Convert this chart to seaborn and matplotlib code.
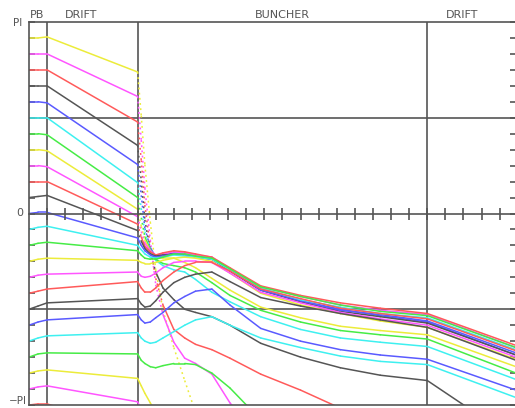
import numpy as np
import pandas as pd
import matplotlib
matplotlib.use("Agg")
import matplotlib.pyplot as plt
import seaborn as sns
from matplotlib.transforms import blended_transform_factory

nan = np.nan

# distance along the line (tick units); sections: PB 0-1, DRIFT 1-6, BUNCHER 6-22, DRIFT 22-
position = [0, 0.5, 1, 6, 6.2, 6.4, 6.7, 7.0, 7.4, 8.0, 8.6, 9.2, 10.1, 11.1, 12.8, 15.0, 17.2, 19.4, 22.0, 26.9]

# phase (degrees) of each particle, named by its initial phase
phase_p165 = [165, 165, 166, 133, 92, 46, -8, -53, -91, -126, -157, -187]
phase_p150 = [150, 150, 150, 110, 69, 24, -25, -67, -95, -121, -136, -141, -151, -178, -213]
phase_p135 = [135, 135, 135, 86, 50, 8, -32, -61, -86, -109, -117, -123, -128, -136, -151, -166, -183, -199]
phase_p120 = [120, 120, 120, 64, 31, -6, -36, -55, -70, -81, -90, -93, -97, -105, -122, -135, -145, -152, -157, -213]
phase_p105 = [105, 105, 104, 46, 17, -14, -32, -41, -40, -37, -37, -39, -42, -54, -72, -82, -90, -96, -102, -133]
phase_p90 = [90, 90, 90, 29, 5, -17, -34, -44, -49, -53, -55, -62, -74, -83, -97, -109, -117, -121, -125, -156]
phase_p75 = [75, 75, 74, 15, -4, -22, -34, -43, -47, -49, -51, -55, -65, -77, -91, -102, -110, -114, -118, -150]
phase_p60 = [60, 60, 59, 4, -12, -25, -35, -41, -42, -42, -46, -51, -61, -72, -88, -98, -106, -110, -114, -144]
phase_p45 = [45, 45, 44, -3, -17, -28, -35, -39, -38, -36, -37, -39, -41, -52, -69, -78, -86, -91, -95, -126]
phase_p30 = [30, 30, 30, -10, -22, -31, -36, -39, -37, -35, -36, -38, -41, -51, -68, -77, -84, -89, -94, -124]
phase_p15 = [15, 16, 17, -16, -26, -33, -38, -40, -39, -38, -39, -41, -43, -54, -72, -83, -92, -97, -103, -133]
phase_p0 = [0, 1, 1, -23, -30, -35, -39, -41, -40, -38, -39, -41, -43, -53, -72, -82, -91, -95, -101, -131]
phase_m15 = [-15, -13, -12, -30, -34, -38, -41, -42, -41, -39, -40, -41, -43, -53, -70, -81, -88, -94, -98, -128]
phase_m30 = [-30, -28, -27, -35, -39, -42, -43, -43, -41, -38, -38, -40, -42, -52, -69, -78, -86, -92, -96, -126]
phase_m45 = [-45, -43, -42, -44, -46, -47, -47, -46, -44, -42, -41, -42, -45, -56, -75, -86, -94, -101, -107, -137]
phase_m60 = [-60, -58, -57, -55, -59, -60, -59, -56, -51, -46, -45, -45, -46, -56, -74, -84, -93, -99, -105, -135]
phase_m75 = [-75, -73, -71, -64, -70, -74, -74, -70, -63, -55, -49, -46, -46, -54, -71, -80, -89, -94, -99, -129]
phase_m90 = [-90, -87, -84, -80, -85, -88, -87, -82, -74, -65, -60, -57, -55, -64, -79, -87, -94, -100, -107, -138]
phase_m105 = [-105, -102, -100, -95, -100, -103, -102, -98, -93, -84, -78, -73, -71, -86, -108, -120, -128, -133, -137, -166]
phase_m120 = [-120, -117, -115, -112, -117, -120, -122, -121, -117, -111, -105, -100, -97, -105, -117, -126, -134, -139, -142, -173]
phase_m135 = [-135, -132, -131, -132, -138, -141, -144, -145, -143, -141, -141, -142, -150, -164, -194]
phase_m150 = [-150, -148, -147, -155, -162, -169, -178, -187, -199]
phase_m165 = [-165, -163, -162, -177, -185, -194, -204]
phase_m180 = [-180, -179, -179, -205]

particles = ["165", "150", "135", "120", "105", "90", "75", "60", "45", "30", "15", "0",
             "-15", "-30", "-45", "-60", "-75", "-90", "-105", "-120", "-135", "-150", "-165", "-180"]
phases = [phase_p165, phase_p150, phase_p135, phase_p120, phase_p105, phase_p90, phase_p75,
          phase_p60, phase_p45, phase_p30, phase_p15, phase_p0, phase_m15, phase_m30, phase_m45,
          phase_m60, phase_m75, phase_m90, phase_m105, phase_m120, phase_m135, phase_m150,
          phase_m165, phase_m180]
color_cycle = ["#ecec3a", "#ff55ff", "#ff5a5a", "#555555", "#5a5aff", "#3ef0f0", "#46ec46"]
section_names = ["PB", "DRIFT", "BUNCHER", "DRIFT"]
section_label_x = [0.45, 2.9, 14.0, 23.9]

# build segments; steep segments are drawn dotted (sparse sample points)
rows = []
seg = 0
for name, ph in zip(particles, phases):
    vals = list(ph) + [nan] * (len(position) - len(ph))
    for i in range(len(position) - 1):
        y0, y1 = vals[i], vals[i + 1]
        if np.isnan(y0) or np.isnan(y1):
            continue
        slope = abs((y1 - y0) / (position[i + 1] - position[i]))
        kind = "steep" if slope > 45 else "solid"
        rows.append(dict(x=position[i], phase=y0, particle=name, seg=seg, kind=kind))
        rows.append(dict(x=position[i + 1], phase=y1, particle=name, seg=seg, kind=kind))
        seg += 1
df = pd.DataFrame(rows)
palette = {p: color_cycle[i % 7] for i, p in enumerate(particles)}

sns.set_style("white")
plt.rcParams["font.family"] = ["DejaVu Sans"]

W, H = 515, 408
fig = plt.figure(figsize=(W / 100, H / 100), dpi=100)
ax = fig.add_axes([29 / W, 3 / H, 487 / W, 383 / H])
ax.set_xlim(0, 26.9)
ax.set_ylim(-180, 180)

frame = "#555555"
for x in [1, 6, 22]:
    ax.axvline(x, color=frame, lw=1.2, zorder=1)
for y in [90, -90]:
    ax.axhline(y, color=frame, lw=1.2, zorder=1)

sns.lineplot(data=df, x="x", y="phase", hue="particle", units="seg", estimator=None,
             style="kind", dashes={"solid": "", "steep": (1.2, 2.2)}, palette=palette,
             linewidth=1.1, legend=False, ax=ax, zorder=2)

for s in ax.spines.values():
    s.set_color(frame)
    s.set_linewidth(1.2)
ax.set_xlabel("")
ax.set_ylabel("")
ax.set_xticks([])
ax.set_yticks(np.arange(-180, 181, 15))
ax.tick_params(axis="y", which="both", direction="in", length=4, width=1.2, color=frame,
               left=True, right=True, labelleft=False, labelright=False)

# zero line with tick marks
ax2 = ax.twiny()
ax2.set_xlim(ax.get_xlim())
ax2.spines["top"].set_position(("data", 0))
for k in ["bottom", "left", "right"]:
    ax2.spines[k].set_visible(False)
ax2.spines["top"].set_color(frame)
ax2.spines["top"].set_linewidth(1.2)
ax2.set_xticks(np.arange(1, 27, 1))
ax2.tick_params(axis="x", direction="inout", length=8, width=1.2, color=frame, labeltop=False)

txt = "#555555"
tr = blended_transform_factory(ax.transData, ax.transAxes)
for name, xs in zip(section_names, section_label_x):
    ax.text(xs, 1.005, name, transform=tr, ha="center", va="bottom", fontsize=8, color=txt)

trl = blended_transform_factory(ax.transAxes, ax.transData)
ax.text(-0.014, 179, "PI", transform=trl, ha="right", va="center", fontsize=7.5, color=txt)
ax.text(-0.012, 0, "0", transform=trl, ha="right", va="center", fontsize=8, color=txt)
ax.text(-0.004, -176, "\u2212PI", transform=trl, ha="right", va="center", fontsize=7.5, color=txt)

fig.savefig("out.png", dpi=100)
